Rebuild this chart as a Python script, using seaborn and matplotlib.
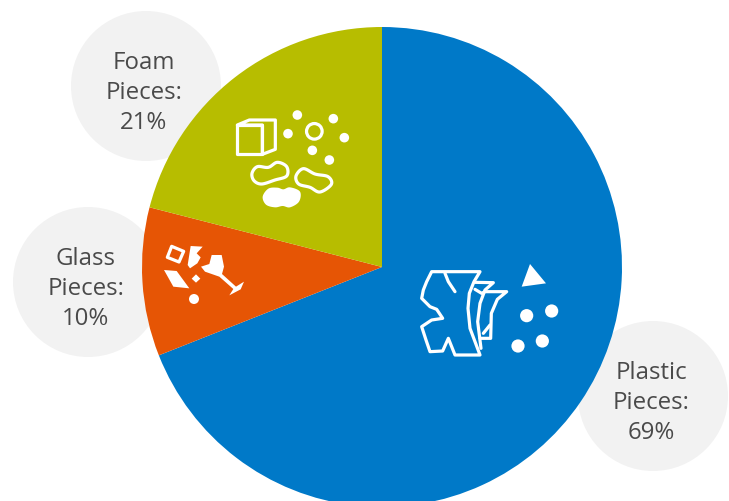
import numpy as np
import matplotlib
matplotlib.use("Agg")
import matplotlib.pyplot as plt
from matplotlib.patches import Circle, Polygon
import seaborn as sns

# Share of debris pieces by material
categories = ["Plastic", "Glass", "Foam"]
shares = [69, 10, 21]
slice_colors = ["#0079c8", "#e65505", "#b7bd00"]
label_texts = [f"{c}\nPieces:\n{s}%" for c, s in zip(categories, shares)]

W, H = 729, 501
BUBBLE = "#f2f2f2"
INK = "#4a4a4a"

sns.set_theme(style="white")
plt.rcParams["font.family"] = ["Open Sans", "DejaVu Sans"]

fig = plt.figure(figsize=(W / 100, H / 100), dpi=100)
ax = fig.add_axes([0, 0, 1, 1])


def Y(y):
    return H - y


def pts(seq, ox=0, oy=0, k=1.0):
    return [(ox + x * k, Y(oy + y * k)) for x, y in seq]


def smooth(seq, n=12):
    """Closed Catmull-Rom outline through the given icon points."""
    p = np.asarray(seq, float)
    out = []
    for i in range(len(p)):
        p0, p1, p2, p3 = p[i - 1], p[i], p[(i + 1) % len(p)], p[(i + 2) % len(p)]
        for t in np.linspace(0, 1, n, endpoint=False):
            out.append(0.5 * (2 * p1 + (p2 - p0) * t
                              + (2 * p0 - 5 * p1 + 4 * p2 - p3) * t ** 2
                              + (3 * p1 - p0 - 3 * p2 + p3) * t ** 3))
    return out


# Grey label bubbles sit behind the pie
bubbles = [(653, 396), (88, 282), (146, 86)]
for cx, cy in bubbles:
    ax.add_patch(Circle((cx, Y(cy)), 75, fc=BUBBLE, ec="none", zorder=1))

ax.pie(shares, colors=slice_colors, startangle=90, counterclock=False,
       center=(382, Y(267)), radius=240,
       wedgeprops={"linewidth": 0, "zorder": 2}, frame=False)
for wedge in ax.patches:
    wedge.set_zorder(2)

ax.set_xlim(0, W)
ax.set_ylim(0, H)
ax.set_aspect("equal")
ax.axis("off")

label_pos = [(651, 403), (86, 289), (144, 93)]
for txt, (x, y) in zip(label_texts, label_pos):
    ax.text(x, Y(y), txt, ha="center", va="center", fontsize=17.3,
            color=INK, linespacing=1.36, zorder=5)

LW = 2.3
line = dict(fc="none", ec="white", lw=LW, joinstyle="round", zorder=4)
fill = dict(fc="white", ec="none", zorder=4)

# Plastic sheets icon
o1 = dict(ox=400, oy=250, k=1 / 3)
sheet = [(95, 65), (240, 65), (222, 95), (208, 130), (204, 175), (210, 235), (240, 315),
         (165, 315), (155, 290), (145, 265), (128, 303), (90, 305), (78, 270), (65, 230),
         (95, 210), (128, 205), (110, 178), (90, 170), (65, 145), (70, 120), (80, 95)]
ax.add_patch(Polygon(pts(sheet, **o1), closed=True, **line))
for seg in ([(135, 70), (145, 95), (165, 125)],
            [(225, 97), (280, 98), (255, 120), (240, 160), (233, 215), (243, 295)],
            [(225, 118), (245, 130), (255, 125), (320, 125), (292, 148), (274, 190), (272, 265), (240, 265)],
            [(250, 250), (270, 225)]):
    ax.plot(*zip(*pts(seg, **o1)), color="white", lw=LW, solid_joinstyle="round",
            solid_capstyle="round", zorder=4)
ax.add_patch(Polygon(pts([(390, 42), (438, 100), (365, 110)], **o1), closed=True, **fill))
for c in [(380, 197), (455, 183), (354, 288), (427, 273)]:
    ax.add_patch(Circle(pts([c], **o1)[0], 6.6, **fill))

# Foam icon: cube, beads and peanuts
o2 = dict(ox=140, oy=90, k=1 / 3)
ax.add_patch(Polygon(pts([(292, 105), (367, 105), (367, 193), (292, 193)], **o2), closed=True, **line))
ax.add_patch(Polygon(pts([(292, 105), (328, 90), (406, 90), (406, 178), (367, 193), (367, 105)], **o2),
                     closed=True, **line))
for c in [(472, 75), (444, 131), (580, 86), (613, 143), (517, 181), (568, 210)]:
    ax.add_patch(Circle(pts([c], **o2)[0], 4.8, **fill))
ax.add_patch(Circle(pts([(523, 124)], **o2)[0], 7.8, **line))
peanut_a = [(336, 250), (352, 230), (385, 232), (412, 217), (440, 230), (440, 258), (405, 270), (365, 282), (342, 272)]
peanut_b = [(468, 258), (490, 236), (525, 252), (564, 260), (574, 283), (540, 306), (510, 292), (476, 282)]
peanut_c = [(368, 320), (385, 296), (412, 293), (430, 298), (450, 292), (480, 305), (477, 335), (450, 352),
            (428, 348), (405, 352), (378, 344)]
ax.add_patch(Polygon(pts(smooth(peanut_a), **o2), closed=True, **line))
ax.add_patch(Polygon(pts(smooth(peanut_b), **o2), closed=True, **line))
ax.add_patch(Polygon(pts(smooth(peanut_c), **o2), closed=True, **fill))

# Glass icon: shards and a wine glass
ax.add_patch(Polygon(pts([(95, 469), (131, 484), (117, 516), (82, 502)], **o2), closed=True, **line))
ax.add_patch(Polygon(pts([(152, 468), (188, 470), (170, 490), (182, 502), (172, 520), (150, 535), (143, 525)], **o2),
                     closed=True, **fill))
ax.add_patch(Polygon(pts([(72, 540), (110, 543), (148, 595), (100, 590)], **o2), closed=True, **fill))
ax.add_patch(Polygon(pts([(168, 553), (181, 566), (168, 578), (155, 566)], **o2), closed=True, **fill))
ax.add_patch(Circle(pts([(162, 627)], **o2)[0], 5, **fill))
wine = [(183, 530), (208, 522), (215, 495), (245, 495), (252, 530), (246, 552), (288, 590),
        (312, 575), (302, 598), (268, 616), (280, 597), (238, 560), (215, 552), (195, 545)]
ax.add_patch(Polygon(pts(wine, **o2), closed=True, **fill))

fig.savefig("out.png", dpi=100, facecolor="white")
